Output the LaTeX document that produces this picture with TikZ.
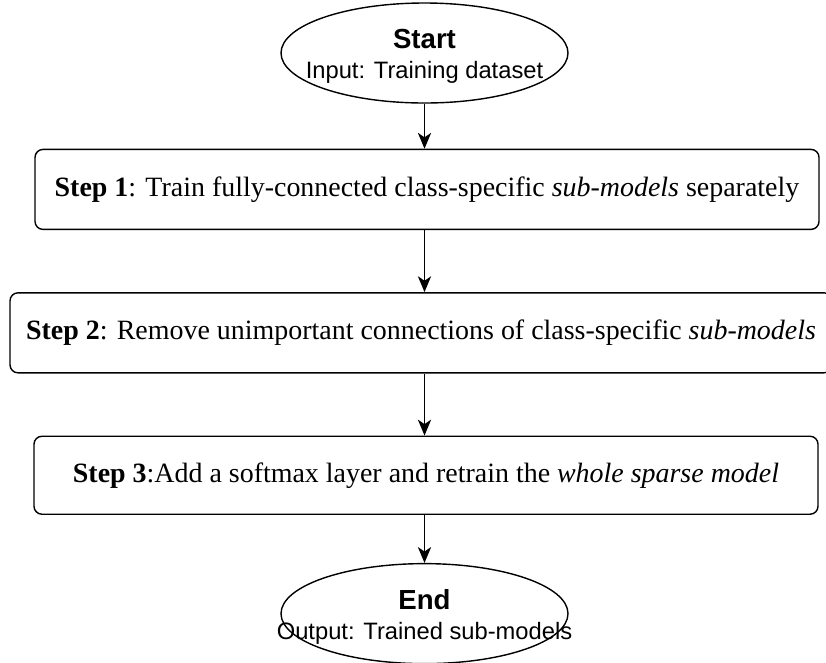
\documentclass[tikz,border=0pt]{standalone}
\usepackage{fontspec}
\setmainfont{Liberation Serif}
\setsansfont{Liberation Sans}
\usetikzlibrary{arrows.meta, positioning, shapes.geometric}
\tikzset{
  stepbox/.style={draw, rounded corners=0.16cm, line width=0.8pt, align=center,
                  minimum width=15.68cm, minimum height=1.6cm, inner sep=0pt,
                  font=\fontsize{15.9}{19}\selectfont},
  terminal/.style={draw, ellipse, line width=0.8pt, inner sep=0pt,
                   minimum width=5.74cm, minimum height=2cm},
  termtext/.style={align=center, yshift=-2pt, font=\sffamily\fontsize{13.5}{17}\selectfont},
  flowarrow/.style={-{Stealth[length=9pt, width=7.5pt, inset=2.5pt]}, line width=0.8pt}
}

\begin{document}
\begin{tikzpicture}
\useasboundingbox (0,0) rectangle (16.52,-13.24);

% Start terminal
\node[terminal, label={[termtext]center:{{\bfseries\fontsize{15.7}{17}\selectfont Start}\\Input: Training dataset}}]
  (start) at (8.49,-1.06) {};

% Steps
\node[stepbox, below=0.9cm of start, xshift=0.05cm] (step1)
  {\textbf{Step 1}: Train fully-connected class-specific \textit{sub-models} separately};
\node[stepbox, minimum width=16.44cm, below=1.24cm of step1, xshift=-0.12cm] (step2)
  {\textbf{Step 2}: Remove unimportant connections of class-specific \textit{sub-models}};
\node[stepbox, minimum height=1.56cm, below=1.24cm of step2, xshift=0.1cm] (step3)
  {\textbf{Step 3}:Add a softmax layer and retrain the \textit{whole sparse model}};

% End terminal
\node[terminal, below=0.96cm of step3, xshift=-0.03cm,
      label={[termtext]center:{{\bfseries\fontsize{15.7}{17}\selectfont End}\\Output: Trained sub-models}}]
  (stop) {};

% Arrows
\foreach \a/\b in {start/step1, step1/step2, step2/step3, step3/stop}
  \draw[flowarrow] (\a.south -| start) -- (\b.north -| start);

\end{tikzpicture}
\end{document}
